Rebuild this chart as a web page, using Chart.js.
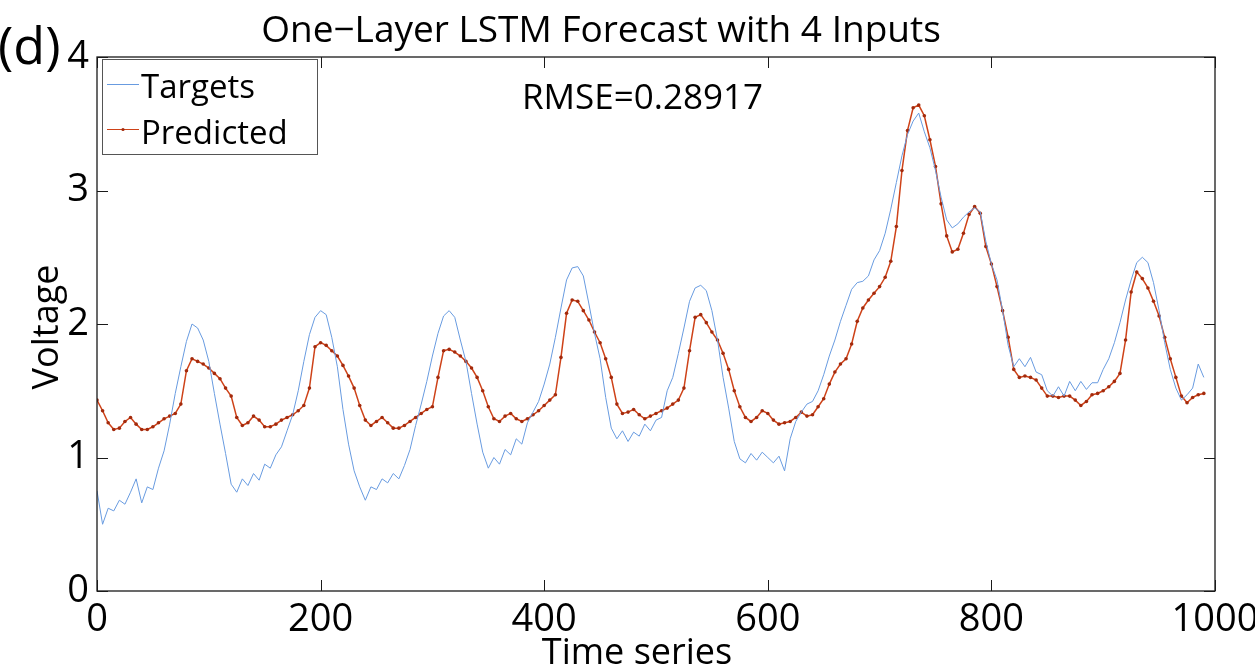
<!DOCTYPE html>
<html lang="en">
<head>
    <meta charset="UTF-8">
    <title>One-Layer LSTM Forecast</title>
    <script src="https://cdn.jsdelivr.net/npm/chart.js"></script>
    <style>
        body { margin: 0; background: #fff; }
        #forecastChart { display: block; }
    </style>
</head>
<body>
    <canvas id="forecastChart" width="1255" height="671"></canvas>
    <script>
        // samples are read every 5 time steps off the original figure
        const sampleStep = 5;

        const targets = [
            0.75, 0.50, 0.62, 0.60, 0.68, 0.65, 0.74, 0.84, 0.66, 0.78,
            0.76, 0.92, 1.05, 1.25, 1.48, 1.68, 1.87, 2.00, 1.97, 1.88,
            1.72, 1.48, 1.25, 1.03, 0.80, 0.74, 0.84, 0.79, 0.88, 0.83,
            0.95, 0.92, 1.02, 1.08, 1.20, 1.32, 1.50, 1.72, 1.92, 2.05,
            2.10, 2.07, 1.90, 1.68, 1.36, 1.10, 0.90, 0.78, 0.68, 0.78,
            0.76, 0.84, 0.81, 0.88, 0.84, 0.94, 1.06, 1.24, 1.40, 1.57,
            1.76, 1.93, 2.06, 2.10, 2.05, 1.88, 1.72, 1.48, 1.25, 1.04,
            0.92, 1.00, 0.95, 1.06, 1.02, 1.14, 1.10, 1.26, 1.34, 1.42,
            1.55, 1.70, 1.90, 2.12, 2.33, 2.42, 2.43, 2.36, 2.15, 1.93,
            1.74, 1.45, 1.22, 1.14, 1.20, 1.12, 1.19, 1.16, 1.25, 1.20,
            1.28, 1.30, 1.50, 1.60, 1.78, 1.97, 2.17, 2.27, 2.29, 2.25,
            2.10, 1.88, 1.60, 1.37, 1.12, 0.99, 0.96, 1.03, 0.98, 1.04,
            1.00, 0.96, 1.01, 0.90, 1.14, 1.27, 1.34, 1.40, 1.42, 1.50,
            1.62, 1.76, 1.88, 2.02, 2.14, 2.26, 2.31, 2.32, 2.36, 2.48,
            2.55, 2.68, 2.86, 3.06, 3.26, 3.42, 3.52, 3.58, 3.44, 3.32,
            3.15, 2.95, 2.78, 2.72, 2.75, 2.80, 2.84, 2.87, 2.84, 2.62,
            2.45, 2.33, 2.10, 1.84, 1.68, 1.74, 1.68, 1.75, 1.64, 1.62,
            1.50, 1.46, 1.53, 1.46, 1.57, 1.50, 1.57, 1.51, 1.56, 1.56,
            1.66, 1.74, 1.86, 2.01, 2.18, 2.33, 2.46, 2.50, 2.46, 2.31,
            2.10, 1.86, 1.66, 1.52, 1.43, 1.47, 1.52, 1.70, 1.60
        ];

        const predicted = [
            1.43, 1.35, 1.26, 1.21, 1.22, 1.27, 1.30, 1.25, 1.21, 1.21,
            1.23, 1.26, 1.29, 1.31, 1.33, 1.40, 1.65, 1.74, 1.72, 1.70,
            1.67, 1.63, 1.59, 1.52, 1.46, 1.30, 1.24, 1.26, 1.31, 1.28,
            1.23, 1.23, 1.25, 1.28, 1.30, 1.32, 1.35, 1.39, 1.52, 1.83,
            1.86, 1.84, 1.80, 1.76, 1.69, 1.61, 1.52, 1.39, 1.28, 1.24,
            1.27, 1.30, 1.26, 1.22, 1.22, 1.24, 1.27, 1.30, 1.33, 1.36,
            1.38, 1.60, 1.80, 1.81, 1.79, 1.76, 1.72, 1.67, 1.60, 1.50,
            1.38, 1.29, 1.27, 1.31, 1.33, 1.29, 1.27, 1.29, 1.32, 1.35,
            1.39, 1.43, 1.47, 1.75, 2.08, 2.18, 2.17, 2.10, 2.03, 1.94,
            1.86, 1.74, 1.60, 1.40, 1.33, 1.34, 1.36, 1.32, 1.29, 1.31,
            1.33, 1.35, 1.37, 1.40, 1.43, 1.52, 1.80, 2.05, 2.07, 2.01,
            1.94, 1.88, 1.78, 1.66, 1.50, 1.38, 1.30, 1.27, 1.30, 1.35,
            1.33, 1.28, 1.25, 1.26, 1.27, 1.30, 1.34, 1.31, 1.32, 1.38,
            1.44, 1.55, 1.64, 1.70, 1.74, 1.85, 2.02, 2.12, 2.18, 2.23,
            2.28, 2.35, 2.47, 2.73, 3.15, 3.45, 3.62, 3.64, 3.56, 3.38,
            3.18, 2.90, 2.66, 2.54, 2.56, 2.68, 2.82, 2.88, 2.83, 2.58,
            2.45, 2.28, 2.10, 1.90, 1.66, 1.60, 1.61, 1.60, 1.58, 1.52,
            1.46, 1.46, 1.45, 1.46, 1.46, 1.43, 1.39, 1.42, 1.47, 1.48,
            1.50, 1.53, 1.57, 1.63, 1.88, 2.24, 2.39, 2.34, 2.27, 2.17,
            2.06, 1.90, 1.74, 1.60, 1.46, 1.41, 1.45, 1.47, 1.48
        ];

        const xTicks = [0, 200, 400, 600, 800, 1000];
        const yTicks = [0, 1, 2, 3, 4];

        const titleText = 'One\u2212Layer LSTM Forecast with 4 Inputs';
        const rmseText = 'RMSE=0.28917';

        const blue = 'rgb(104, 155, 224)';
        const red = 'rgb(206, 66, 24)';
        const fontFamily = '"Open Sans", "Noto Sans", sans-serif';

        function toPoints(values) {
            return values.map((v, i) => ({ x: i * sampleStep, y: v }));
        }

        // frame, inward ticks, labels and legend drawn on top of the chart
        const decorations = {
            id: 'decorations',
            afterDraw(chart) {
                const ctx = chart.ctx;
                const a = chart.chartArea;
                const xs = chart.scales.x;
                const ys = chart.scales.y;
                ctx.save();

                ctx.strokeStyle = '#1a1a1a';
                ctx.lineWidth = 1.3;
                ctx.strokeRect(a.left, a.top, a.right - a.left, a.bottom - a.top);

                ctx.beginPath();
                xTicks.forEach(v => {
                    const px = Math.round(xs.getPixelForValue(v)) + 0.5;
                    ctx.moveTo(px, a.bottom); ctx.lineTo(px, a.bottom - 11);
                    ctx.moveTo(px, a.top); ctx.lineTo(px, a.top + 11);
                });
                yTicks.forEach(v => {
                    const py = Math.round(ys.getPixelForValue(v)) + 0.5;
                    ctx.moveTo(a.left, py); ctx.lineTo(a.left + 11, py);
                    ctx.moveTo(a.right, py); ctx.lineTo(a.right - 11, py);
                });
                ctx.lineWidth = 1;
                ctx.stroke();

                ctx.fillStyle = '#000';
                ctx.textBaseline = 'alphabetic';

                ctx.font = '37px ' + fontFamily;
                ctx.textAlign = 'center';
                ctx.fillText(titleText, 601, 42);

                ctx.font = '52px ' + fontFamily;
                ctx.textAlign = 'left';
                ctx.fillText('(d)', -2, 64);

                ctx.font = '35px ' + fontFamily;
                ctx.fillText(rmseText, 522, 109);

                ctx.font = '36px ' + fontFamily;
                ctx.textAlign = 'center';
                ctx.fillText('Time series', 637, 664);

                ctx.save();
                ctx.translate(58, 327);
                ctx.rotate(-Math.PI / 2);
                ctx.fillText('Voltage', 0, 0);
                ctx.restore();

                // legend box
                ctx.strokeStyle = '#555';
                ctx.lineWidth = 1;
                ctx.strokeRect(102.5, 59.5, 215, 95);
                ctx.strokeStyle = blue;
                ctx.beginPath(); ctx.moveTo(107, 84.5); ctx.lineTo(139, 84.5); ctx.stroke();
                ctx.strokeStyle = red;
                ctx.beginPath(); ctx.moveTo(107, 129.5); ctx.lineTo(139, 129.5); ctx.stroke();
                ctx.fillStyle = '#a32a0c';
                ctx.beginPath(); ctx.arc(123, 129.5, 1.6, 0, Math.PI * 2); ctx.fill();

                ctx.fillStyle = '#000';
                ctx.font = '33px ' + fontFamily;
                ctx.textAlign = 'left';
                ctx.fillText('Targets', 141, 98);
                ctx.fillText('Predicted', 141, 144);

                ctx.restore();
            }
        };

        const ctx = document.getElementById('forecastChart').getContext('2d');
        new Chart(ctx, {
            type: 'line',
            data: {
                datasets: [
                    {
                        label: 'Targets',
                        data: toPoints(targets),
                        borderColor: blue,
                        borderWidth: 1,
                        pointRadius: 0,
                        tension: 0
                    },
                    {
                        label: 'Predicted',
                        data: toPoints(predicted),
                        borderColor: red,
                        borderWidth: 1.5,
                        pointRadius: 1.8,
                        pointBorderWidth: 0,
                        pointBackgroundColor: '#a32a0c',
                        tension: 0
                    }
                ]
            },
            options: {
                responsive: false,
                animation: false,
                devicePixelRatio: 1,
                layout: { padding: { top: 57, right: 40, left: 0, bottom: 0 } },
                plugins: {
                    legend: { display: false },
                    tooltip: { enabled: false }
                },
                scales: {
                    x: {
                        type: 'linear',
                        min: 0,
                        max: 1000,
                        afterBuildTicks: scale => { scale.ticks = xTicks.map(v => ({ value: v })); },
                        afterFit: scale => {
                            scale.height = 80;
                            scale.paddingLeft = 0;
                            scale.paddingRight = 0;
                        },
                        grid: { display: false, drawTicks: false },
                        border: { display: false },
                        ticks: {
                            color: '#000',
                            padding: 6,
                            maxRotation: 0,
                            callback: value => String(value),
                            font: { family: fontFamily, size: 38 }
                        }
                    },
                    y: {
                        min: 0,
                        max: 4,
                        afterBuildTicks: scale => { scale.ticks = yTicks.map(v => ({ value: v })); },
                        afterFit: scale => {
                            scale.width = 97;
                            scale.paddingTop = 0;
                            scale.paddingBottom = 0;
                        },
                        grid: { display: false, drawTicks: false },
                        border: { display: false },
                        ticks: {
                            color: '#000',
                            padding: 8,
                            callback: value => String(value),
                            font: { family: fontFamily, size: 38 }
                        }
                    }
                }
            },
            plugins: [decorations]
        });
    </script>
</body>
</html>
